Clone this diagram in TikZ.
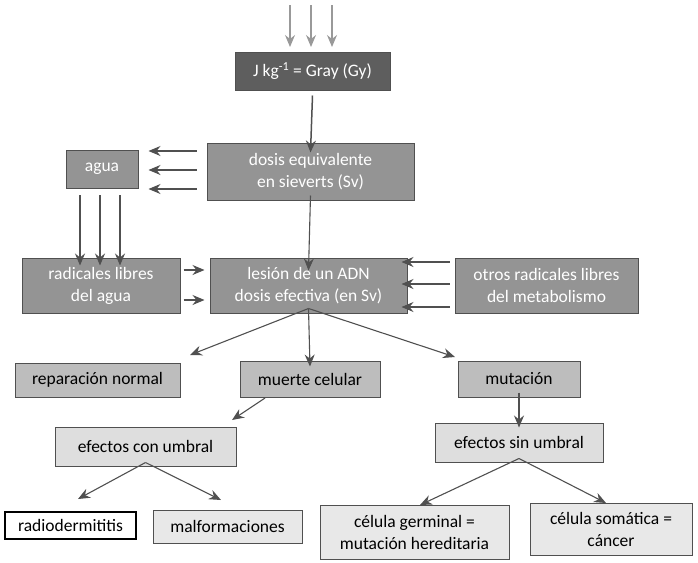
\documentclass[tikz,border=0pt]{standalone}
\usepackage{fontspec}
\setmainfont{Carlito}
\usetikzlibrary{arrows.meta}
\definecolor{dk}{HTML}{5E5E5E}
\definecolor{md}{HTML}{949494}
\definecolor{lt}{HTML}{BDBDBD}
\definecolor{xl}{HTML}{DEDEDE}
\definecolor{xxl}{HTML}{E8E8E8}
\definecolor{ln}{HTML}{505050}
\begin{document}
\begin{tikzpicture}[x=1pt,y=-1pt,
  box/.style={draw=ln,line width=1pt,inner sep=2pt,align=center,font=\fontsize{17.5}{22}\selectfont},
  darkbox/.style={box,fill=dk,text=white},
  midbox/.style={box,fill=md,text=white},
  ltbox/.style={box,fill=lt,text=black},
  xlbox/.style={box,fill=xl,text=black},
  xxlbox/.style={box,fill=xxl,text=black},
  arr/.style={-{Stealth[length=12pt,width=10pt,inset=4pt]},line width=1.1pt,draw=ln},
  larr/.style={-{Stealth[length=12pt,width=10pt,inset=4pt]},line width=1.1pt,draw=gray!80}]
\useasboundingbox (0,0) rectangle (698,562);
\node[darkbox,minimum width=155,minimum height=38] (gray) at (312.5,71) {J kg\textsuperscript{-1} = Gray (Gy)};
\node[midbox,minimum width=207,minimum height=57] (dosis) at (310.5,171.5) {dosis equivalente\\en sieverts (Sv)};
\node[midbox,minimum width=72,minimum height=38] (agua) at (102,169) {agua};
\node[midbox,minimum width=158,minimum height=55] (rad) at (101,285.5) {radicales libres\\del agua};
\node[midbox,minimum width=197,minimum height=55] (lesion) at (308.5,285.5) {lesión de un ADN\\dosis efectiva (en Sv)};
\node[midbox,minimum width=183,minimum height=55] (otros) at (546.5,285.5) {otros radicales libres\\del metabolismo};
\node[ltbox,minimum width=165,minimum height=34] (rep) at (97.5,380) {reparación normal};
\node[ltbox,minimum width=140,minimum height=36] (muerte) at (310,379) {muerte celular};
\node[ltbox,minimum width=122,minimum height=36] (mut) at (519,379) {mutación};
\node[xlbox,minimum width=181,minimum height=39] (econ) at (145.5,446.5) {efectos con umbral};
\node[xlbox,minimum width=168,minimum height=39] (esin) at (519,442.5) {efectos sin umbral};
\node[box,fill=white,draw=black,line width=1.5pt,minimum width=131,minimum height=27] (radio) at (70.5,525.5) {radiodermititis};
\node[xxlbox,minimum width=149,minimum height=33] (malf) at (227.5,526.5) {malformaciones};
\node[xxlbox,minimum width=189,minimum height=54] (germ) at (414.5,532) {célula germinal =\\mutación hereditaria};
\node[xxlbox,minimum width=162,minimum height=52] (soma) at (611,529) {célula somática =\\cáncer};
% top incoming arrows
\foreach \x in {290,311,332} {\coordinate (t\x) at (\x,5); \draw[larr] (t\x) -- (\x,47);}
\draw[arr,line width=1.5pt] (gray.south) ++(0,5) -- ([yshift=-10]dosis.north);
\draw[arr] ([yshift=5]dosis.south) -- ([yshift=-13]lesion.north);
% dosis -> agua
\foreach \y in {151,170,189} {\draw[arr] ([xshift=-10]dosis.west |- 0,\y) -- ([xshift=10]agua.east |- 0,\y);}
% agua -> radicales
\foreach \x in {80,100,120} {\draw[arr] (\x,195) -- ([yshift=-8]rad.north -| \x,0);}
% radicales -> lesion
\foreach \y in {270,300} {\draw[arr] ([xshift=3]rad.east |- 0,\y) -- ([xshift=-5]lesion.west |- 0,\y);}
% otros -> lesion
\foreach \y in {262,284,307} {\draw[arr] ([xshift=-5]otros.west |- 0,\y) -- ([xshift=-6]lesion.east |- 0,\y);}
% lesion -> three
\coordinate (lb) at ([yshift=5]lesion.south);
\draw[arr] (lb) -- (190,355);
\draw[arr] (lb) -- ([yshift=-6]muerte.north);
\draw[arr] (lb) -- (455,357);
\draw[arr] (265,398) -- (232,420);
\draw[arr] ([yshift=5]mut.south) -- ([yshift=-5]esin.north);
\coordinate (eb) at ([yshift=4]econ.south);
\draw[arr] (eb) -- (78,499);
\draw[arr] (eb) -- (221,500);
\coordinate (sb) at ([yshift=4]esin.south);
\draw[arr] (sb) -- (420,505);
\draw[arr] (sb) -- (606,503);
\end{tikzpicture}
\end{document}
